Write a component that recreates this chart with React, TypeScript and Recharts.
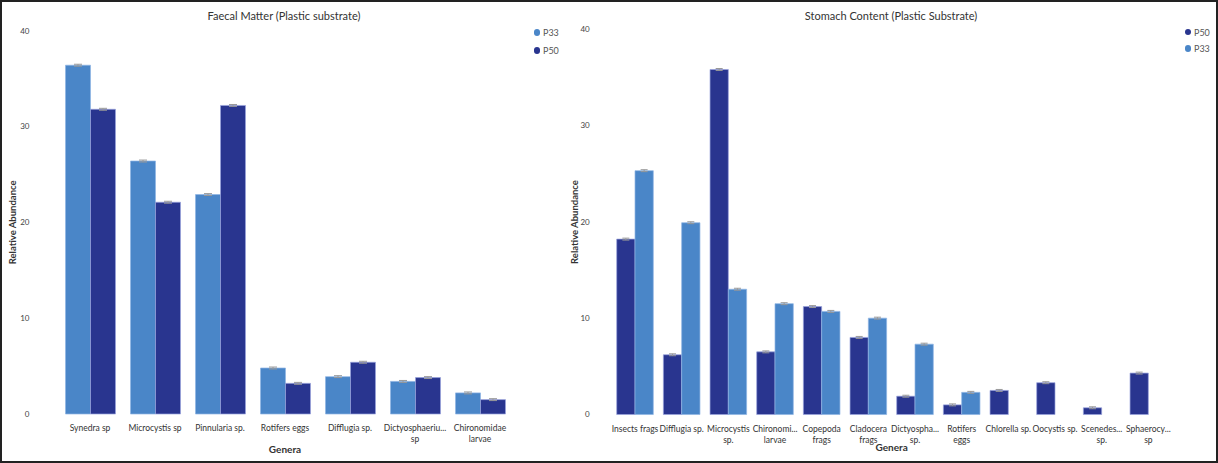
import React from 'react';
import { BarChart, Bar, XAxis, YAxis, Legend, ErrorBar } from 'recharts';

// ---- Faecal Matter (Plastic substrate) ----
const faecalGenera = [
  'Synedra sp',
  'Microcystis sp',
  'Pinnularia sp.',
  'Rotifers eggs',
  'Difflugia sp.',
  'Dictyosphaeriu...\nsp',
  'Chironomidae\nlarvae',
];
const faecalP33 = [36.4, 26.4, 22.9, 4.8, 3.9, 3.4, 2.2];
const faecalP50 = [31.8, 22.1, 32.2, 3.2, 5.4, 3.8, 1.5];
const faecalP33Err = [0.1, 0.1, 0.1, 0.1, 0.1, 0.1, 0.1];
const faecalP50Err = [0.1, 0.1, 0.1, 0.1, 0.1, 0.1, 0.1];

// ---- Stomach Content (Plastic Substrate) ----
const stomachGenera = [
  'Insects frags',
  'Difflugia sp.',
  'Microcystis\nsp.',
  'Chironomi...\nlarvae',
  'Copepoda\nfrags',
  'Cladocera\nfrags',
  'Dictyospha...\nsp.',
  'Rotifers\neggs',
  'Chlorella sp.',
  'Oocystis sp.',
  'Scenedes...\nsp.',
  'Sphaerocy...\nsp',
];
const stomachP50 = [18.2, 6.2, 35.8, 6.5, 11.2, 8.0, 1.9, 1.0, 2.5, 3.3, 0.7, 4.3];
const stomachP33 = [25.3, 19.9, 13.0, 11.5, 10.7, 10.0, 7.3, 2.3, 0, 0, 0, 0];
const stomachP50Err = [0.1, 0.1, 0.1, 0.1, 0.1, 0.1, 0.1, 0.1, 0.1, 0.1, 0.1, 0.1];
const stomachP33Err = [0.1, 0.1, 0.1, 0.1, 0.1, 0.1, 0.1, 0.1, 0.05, 0.05, 0.05, 0.05];

const yTicks = [0, 10, 20, 30, 40];
const faecalLegendOrder = ['P33', 'P50'];
const stomachLegendOrder = ['P50', 'P33'];

const faecalData = faecalGenera.map((g, i) => ({
  genus: g,
  P33: faecalP33[i],
  P50: faecalP50[i],
  p33Err: faecalP33Err[i],
  p50Err: faecalP50Err[i],
}));
const stomachData = stomachGenera.map((g, i) => ({
  genus: g,
  P50: stomachP50[i],
  P33: stomachP33[i],
  p50Err: stomachP50Err[i],
  p33Err: stomachP33Err[i],
}));

const LIGHT = '#4a86c8';
const DARK = '#29358f';
const FONT = 'Lato, "Noto Sans", sans-serif';

const CatTick = (props: any) => {
  const { x, y, payload } = props;
  const lines = String(payload.value).split('\n');
  return (
    <g transform={`translate(${x},${y})`}>
      {lines.map((l, i) => (
        <text
          key={i}
          x={0}
          y={0}
          dy={7 + i * 10.5}
          textAnchor="middle"
          fontSize={8.5}
          fill="#333"
          fontFamily={FONT}
        >
          {l}
        </text>
      ))}
    </g>
  );
};

const makeLegend = (rowH: number, order: string[]) => (props: any) => {
  const items = [...(props.payload || [])].sort(
    (a: any, b: any) => order.indexOf(a.value) - order.indexOf(b.value)
  );
  return (
    <div style={{ fontFamily: FONT }}>
      {items.map((p: any) => (
        <div key={p.value} style={{ display: 'flex', alignItems: 'center', height: rowH }}>
          <span
            style={{
              display: 'inline-block',
              width: 6.5,
              height: 6.5,
              borderRadius: '50%',
              background: p.color,
              marginRight: 3,
            }}
          />
          <span style={{ fontSize: 9, color: '#555', lineHeight: 1 }}>{p.value}</span>
        </div>
      ))}
    </div>
  );
};

const titleStyle: React.CSSProperties = {
  position: 'absolute',
  fontFamily: FONT,
  fontSize: 11,
  color: '#333',
  whiteSpace: 'nowrap',
  transform: 'translateX(-50%)',
  lineHeight: '14px',
};

const LEG_W_LEFT = 40;
const LEG_W_RIGHT = 34;

export default function App() {
  return (
    <div
      style={{
        position: 'absolute',
        left: 0,
        top: 0,
        width: 1218,
        height: 463,
        background: '#fff',
        overflow: 'hidden',
      }}
    >
      {/* Left chart */}
      <div style={{ position: 'absolute', left: 0, top: 0, width: 600, height: 463 }}>
        <BarChart
          width={600}
          height={463}
          data={faecalData}
          margin={{ top: 30.7, right: 87.5 - LEG_W_LEFT, bottom: 0, left: 0 }}
          barGap={0}
        >
          <XAxis
            dataKey="genus"
            interval={0}
            axisLine={false}
            tickLine={false}
            tickSize={0}
            tickMargin={10}
            height={49}
            tick={<CatTick />}
            label={{
              value: 'Genera',
              position: 'insideBottom',
              offset: 10.5,
              style: { fontFamily: FONT, fontSize: 10, fontWeight: 700, fill: '#333' },
            }}
          />
          <YAxis
            domain={[0, 40]}
            ticks={yTicks}
            axisLine={false}
            tickLine={false}
            tickSize={0}
            tickMargin={28}
            width={57.5}
            tick={{ fontSize: 8, fill: '#444', fontFamily: FONT }}
            label={{
              value: 'Relative Abundance',
              angle: -90,
              position: 'insideLeft',
              offset: 12.5,
              style: { textAnchor: 'middle', fontFamily: FONT, fontSize: 9.5, fontWeight: 700, fill: '#333' },
            }}
          />
          <Legend
            layout="vertical"
            align="right"
            verticalAlign="top"
            content={makeLegend(18, faecalLegendOrder)}
            wrapperStyle={{ position: 'absolute', left: 533.5, top: 23.7, width: LEG_W_LEFT }}
          />
          <Bar dataKey="P33" name="P33" fill={LIGHT} stroke="#8fb4e4" strokeWidth={0.7} barSize={25} isAnimationActive={false}>
            <ErrorBar dataKey="p33Err" width={4} stroke="#999" strokeWidth={1} direction="y" />
          </Bar>
          <Bar dataKey="P50" name="P50" fill={DARK} stroke="#9aa3dc" strokeWidth={0.7} barSize={25} isAnimationActive={false}>
            <ErrorBar dataKey="p50Err" width={4} stroke="#999" strokeWidth={1} direction="y" />
          </Bar>
        </BarChart>
        <div style={{ ...titleStyle, left: 284, top: 9 }}>Faecal Matter (Plastic substrate)</div>
      </div>

      {/* Right chart */}
      <div style={{ position: 'absolute', left: 560, top: 0, width: 658, height: 463 }}>
        <BarChart
          width={658}
          height={463}
          data={stomachData}
          margin={{ top: 29, right: 46.3 - LEG_W_RIGHT, bottom: 0, left: 0 }}
          barGap={0}
        >
          <XAxis
            dataKey="genus"
            interval={0}
            axisLine={false}
            tickLine={false}
            tickSize={0}
            tickMargin={10}
            height={48}
            tick={<CatTick />}
            label={{
              value: 'Genera',
              position: 'insideBottom',
              offset: 12,
              style: { fontFamily: FONT, fontSize: 10, fontWeight: 700, fill: '#333' },
            }}
          />
          <YAxis
            domain={[0, 40]}
            ticks={yTicks}
            axisLine={false}
            tickLine={false}
            tickSize={0}
            tickMargin={22}
            width={51.7}
            tick={{ fontSize: 8, fill: '#444', fontFamily: FONT }}
            label={{
              value: 'Relative Abundance',
              angle: -90,
              position: 'insideLeft',
              offset: 15,
              style: { textAnchor: 'middle', fontFamily: FONT, fontSize: 9.5, fontWeight: 700, fill: '#333' },
            }}
          />
          <Legend
            layout="vertical"
            align="right"
            verticalAlign="top"
            content={makeLegend(16.7, stomachLegendOrder)}
            wrapperStyle={{ position: 'absolute', left: 624.5, top: 23.7, width: LEG_W_RIGHT }}
          />
          <Bar dataKey="P50" name="P50" fill={DARK} stroke="#9aa3dc" strokeWidth={0.7} barSize={18.3} isAnimationActive={false}>
            <ErrorBar dataKey="p50Err" width={3.5} stroke="#999" strokeWidth={1} direction="y" />
          </Bar>
          <Bar dataKey="P33" name="P33" fill={LIGHT} stroke="#8fb4e4" strokeWidth={0.7} barSize={18.3} isAnimationActive={false}>
            <ErrorBar dataKey="p33Err" width={3.5} stroke="#999" strokeWidth={1} direction="y" />
          </Bar>
        </BarChart>
        <div style={{ ...titleStyle, left: 331, top: 9 }}>Stomach Content (Plastic Substrate)</div>
      </div>

      {/* Frame */}
      <div
        style={{
          position: 'absolute',
          left: 0,
          top: 0,
          width: 1218,
          height: 463,
          boxSizing: 'border-box',
          border: '2px solid #222',
          pointerEvents: 'none',
        }}
      />
    </div>
  );
}
